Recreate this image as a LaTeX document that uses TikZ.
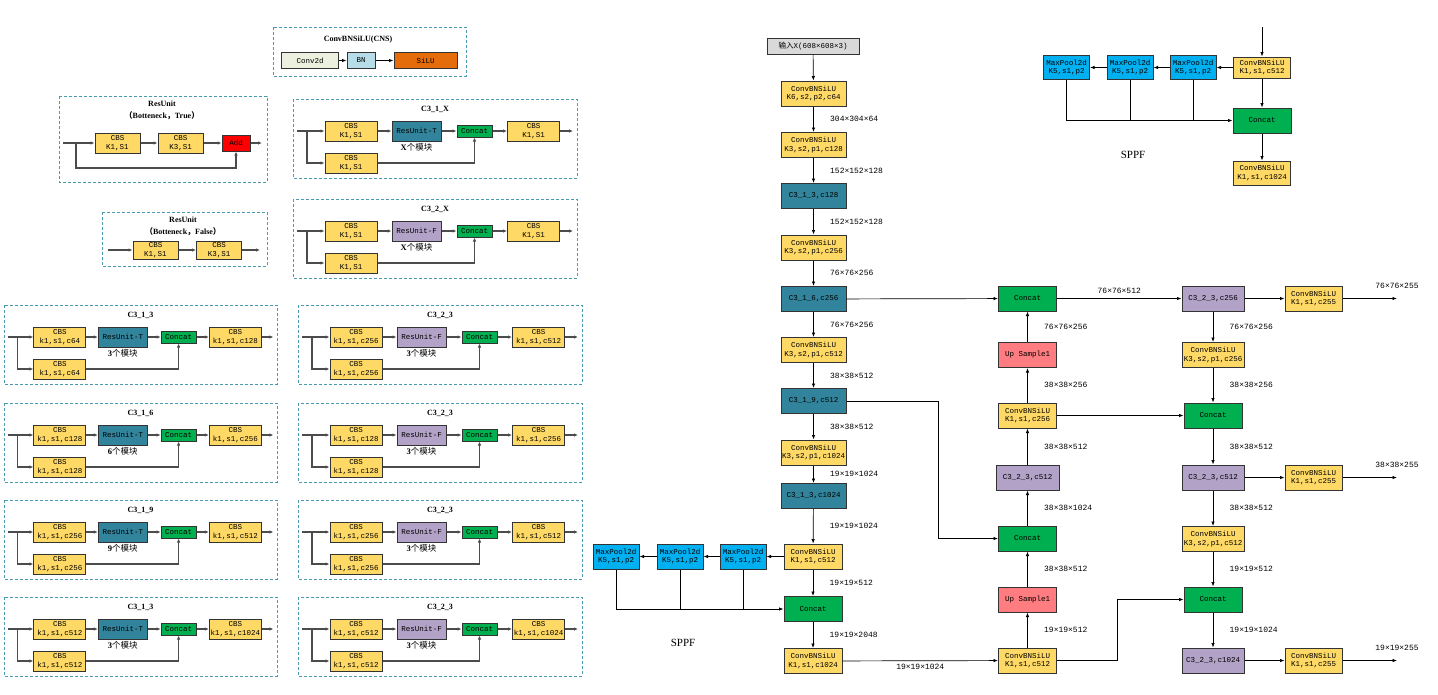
\documentclass[tikz,border=0pt]{standalone}
\usepackage{fontspec}
\setmainfont{Liberation Serif}
\setmonofont{Liberation Mono}
\newfontfamily\cjk{Noto Sans CJK SC}
\usetikzlibrary{arrows.meta,positioning}
\definecolor{cbsfill}{HTML}{FFD966}
\definecolor{unitT}{HTML}{31849B}
\definecolor{unitF}{HTML}{B3A2C7}
\definecolor{catfill}{HTML}{00B050}
\definecolor{poolfill}{HTML}{00B0F0}
\definecolor{upfill}{HTML}{FF7C80}
\definecolor{addfill}{HTML}{FF0000}
\definecolor{silufill}{HTML}{E46C0A}
\definecolor{convfill}{HTML}{EBF1DE}
\definecolor{bnfill}{HTML}{B7DEE8}
\definecolor{infill}{HTML}{D9D9D9}
\definecolor{frameblue}{HTML}{4A9AB0}

\begin{document}
\begin{tikzpicture}[x=1pt, y=-1pt,
    box/.style={draw=black!80, line width=1pt, inner sep=0pt, align=center,
                font=\ttfamily\fontsize{7.5}{8.8}\selectfont},
    cbs/.style={box, fill=cbsfill, minimum width=52pt, minimum height=20pt},
    unit/.style={box, minimum width=49pt, minimum height=20pt},
    cat/.style={box, fill=catfill, minimum width=35pt, minimum height=12pt},
    conv/.style={box, fill=cbsfill, minimum width=65pt, minimum height=25pt},
    c3/.style={box, minimum width=65pt, minimum height=25pt},
    pool/.style={box, fill=poolfill, minimum width=46pt, minimum height=25pt},
    dashframe/.style={draw=frameblue, line width=0.9pt, dash pattern=on 3pt off 2pt},
    ttl/.style={font=\bfseries\fontsize{8}{9}\selectfont},
    mod/.style={font=\fontsize{8.5}{9}\selectfont},
    blk/.style={draw=black!70, line width=1.1pt, -{Latex[length=4pt,width=3.5pt]}},
    arr/.style={draw=black, line width=0.7pt, -{Latex[length=4.5pt,width=3.5pt]}},
    ln/.style={draw=black, line width=0.7pt},
    dimtxt/.style={font=\ttfamily\fontsize{8}{9}\selectfont},
    dim/.style={dimtxt, midway, anchor=west, xshift=13pt}
  ]
  \useasboundingbox (0,0) rectangle (1438,694);

  % Legend: ConvBNSiLU
  \draw[dashframe] (273,27) rectangle (466,76);
  \node[ttl] (lgt) at (358,40) {ConvBNSiLU(CNS)};
  \node[box, fill=convfill, minimum width=57pt, minimum height=16pt] (lconv) at (310,60.5) {Conv2d};
  \node[box, fill=bnfill, minimum width=28pt, minimum height=16pt] (lbn) at (361,60.5) {BN};
  \node[box, fill=silufill, minimum width=63pt, minimum height=16pt] (lsilu) at (425.5,60.5) {SiLU};
  \draw[arr] (lconv) -- (lbn);
  \draw[arr] (lbn) -- (lsilu);

  % ResUnit (Botteneck, True)
  \draw[dashframe] (59,96) rectangle (267,182);
  \node[ttl] (rt1) at (162,104) {ResUnit};
  \node[ttl] (rt2) at (162,116) {{\cjk （}Botteneck{\cjk ，}True{\cjk ）}};
  \node[cbs, minimum width=45pt] (ra) at (117.5,143) {CBS\\K1,S1};
  \node[cbs, minimum width=45pt] (rb) at (180.5,143) {CBS\\K3,S1};
  \node[box, fill=addfill, minimum width=28pt, minimum height=16pt] (radd) at (236,143) {Add};
  \coordinate (ri) at (63,143);
  \coordinate (rf) at (76,143);
  \coordinate (rlow) at (76,168);
  \coordinate (ro) at (262,143);
  \draw[blk] (ri) -- (ra);
  \draw[blk] (ra) -- (rb);
  \draw[blk] (rb) -- (radd);
  \draw[blk] (radd) -- (ro);
  \draw[blk] (rf) -- (rlow) -| (radd);

  % ResUnit (Botteneck, False)
  \draw[dashframe] (102,212) rectangle (267,266);
  \node[ttl] (rf1) at (183,220) {ResUnit};
  \node[ttl] (rf2) at (183,232) {{\cjk （}Botteneck{\cjk ，}False{\cjk ）}};
  \node[cbs, minimum width=45pt, minimum height=18pt] (rc) at (155.5,250) {CBS\\K1,S1};
  \node[cbs, minimum width=45pt, minimum height=18pt] (rd) at (219,250) {CBS\\K3,S1};
  \coordinate (rfi) at (108,250);
  \coordinate (rfo) at (260,250);
  \draw[blk] (rfi) -- (rc);
  \draw[blk] (rc) -- (rd);
  \draw[blk] (rd) -- (rfo);

  % C3 blocks
  \foreach \dx/\sx/\t/\ttl/\ca/\cb/\n/\ut/\id in {
      293/1/99/C3\_1\_X/{K1,S1}/{K1,S1}/X/T/X1,
      293/1/199/C3\_2\_X/{K1,S1}/{K1,S1}/X/F/X2,
      4/0.962/305/C3\_1\_3/{k1,s1,c64}/{k1,s1,c128}/3/T/L1,
      4/0.962/403/C3\_1\_6/{k1,s1,c128}/{k1,s1,c256}/6/T/L2,
      4/0.962/500/C3\_1\_9/{k1,s1,c256}/{k1,s1,c512}/9/T/L3,
      4/0.962/597/C3\_1\_3/{k1,s1,c512}/{k1,s1,c1024}/3/T/L4,
      298/1/305/C3\_2\_3/{k1,s1,c256}/{k1,s1,c512}/3/F/R1,
      298/1/403/C3\_2\_3/{k1,s1,c128}/{k1,s1,c256}/3/F/R2,
      298/1/500/C3\_2\_3/{k1,s1,c256}/{k1,s1,c512}/3/F/R3,
      298/1/597/C3\_2\_3/{k1,s1,c512}/{k1,s1,c1024}/3/F/R4} {
    \begin{scope}[xshift=\dx pt, xscale=\sx]
      \draw[dashframe] (0,\t) rectangle (284,\t+79);
      \node[ttl] (t\id) at (142,\t+10) {\ttl};
      \node[cbs] (a\id) at (58,\t+32) {CBS\\\ca};
      \node[unit, fill=unit\ut] (u\id) at (123.5,\t+32) {ResUnit-\ut};
      \node[mod] (m\id) at (123.5,\t+48) {\textbf{\n}{\cjk 个模块}};
      \node[cat] (k\id) at (181.5,\t+32) {Concat};
      \node[cbs] (c\id) at (240.5,\t+32) {CBS\\\cb};
      \node[cbs] (b\id) at (58,\t+64) {CBS\\\ca};
      \coordinate (i\id) at (4,\t+32);
      \coordinate (f\id) at (14,\t+32);
      \coordinate (o\id) at (280,\t+32);
      \draw[blk] (i\id) -- (a\id);
      \draw[blk] (f\id) |- (b\id);
      \draw[blk] (a\id) -- (u\id);
      \draw[blk] (u\id) -- (k\id);
      \draw[blk] (k\id) -- (c\id);
      \draw[blk] (c\id) -- (o\id);
      \draw[blk] (b\id) -| (k\id);
    \end{scope}
  }

  % Backbone
  \node[box, fill=infill, minimum width=92pt, minimum height=16pt] (inp) at (813,46) {{\cjk 输入}X(608×608×3)};
  \node[conv] (cv1) at (813.5,93.5) {ConvBNSiLU\\K6,s2,p2,c64};
  \node[conv] (cv2) at (813.5,145) {ConvBNSiLU\\K3,s2,p1,c128};
  \node[c3, fill=unitT] (c313) at (813.5,196) {C3\_1\_3,c128};
  \node[conv] (cv3) at (813.5,247.5) {ConvBNSiLU\\K3,s2,p1,c256};
  \node[c3, fill=unitT] (c316) at (813.5,299) {C3\_1\_6,c256};
  \node[conv] (cv4) at (813.5,350) {ConvBNSiLU\\K3,s2,p1,c512};
  \node[c3, fill=unitT] (c319) at (813.5,401) {C3\_1\_9,c512};
  \node[conv] (cv5) at (813.5,452.5) {ConvBNSiLU\\K3,s2,p1,c1024};
  \node[c3, fill=unitT] (c3l) at (813.5,496) {C3\_1\_3,c1024};
  \node[conv, minimum width=58pt] (sp1) at (813,556.5) {ConvBNSiLU\\K1,s1,c512};
  \node[c3, fill=catfill, minimum width=58pt] (spc) at (813,609) {Concat};
  \node[conv, minimum width=58pt] (sp2) at (813,661) {ConvBNSiLU\\K1,s1,c1024};

  \draw[arr] (inp) -- (cv1);
  \draw[arr] (cv1) -- node[dim] {304×304×64} (cv2);
  \draw[arr] (cv2) -- node[dim] {152×152×128} (c313);
  \draw[arr] (c313) -- node[dim] {152×152×128} (cv3);
  \draw[arr] (cv3) -- node[dim] {76×76×256} (c316);
  \draw[arr] (c316) -- node[dim] {76×76×256} (cv4);
  \draw[arr] (cv4) -- node[dim] {38×38×512} (c319);
  \draw[arr] (c319) -- node[dim] {38×38×512} (cv5);
  \draw[arr] (cv5) -- node[dim] {19×19×1024} (c3l);
  \draw[arr] (c3l) -- node[dim] {19×19×1024} (sp1);
  \draw[arr] (sp1) -- node[dim] {19×19×512} (spc);
  \draw[arr] (spc) -- node[dim] {19×19×2048} (sp2);

  % SPPF (backbone)
  \node[pool] (mp1) at (743,556.5) {MaxPool2d\\K5,s1,p2};
  \node[pool] (mp2) at (680,556.5) {MaxPool2d\\K5,s1,p2};
  \node[pool] (mp3) at (616,556.5) {MaxPool2d\\K5,s1,p2};
  \node[font=\fontsize{11}{12}\selectfont] (sppfa) at (683,643) {SPPF};
  \draw[arr] (sp1) -- (mp1);
  \draw[arr] (mp1) -- (mp2);
  \draw[arr] (mp2) -- (mp3);
  \draw[arr] (mp3) |- (spc);
  \draw[ln] (mp2) -- (mp2 |- spc);
  \draw[ln] (mp1) -- (mp1 |- spc);

  % Neck, column 1
  \node[c3, fill=catfill, minimum width=58pt] (cat1) at (1027.5,298.5) {Concat};
  \node[c3, fill=upfill, minimum width=58pt] (up1) at (1027.5,355) {Up Sample1};
  \node[conv, minimum width=58pt] (cv7) at (1027.5,415.5) {ConvBNSiLU\\K1,s1,c256};
  \node[c3, fill=unitF, minimum width=63pt] (c2a) at (1027.5,477.5) {C3\_2\_3,c512};
  \node[c3, fill=catfill, minimum width=58pt] (cat2) at (1027.5,538.5) {Concat};
  \node[c3, fill=upfill, minimum width=58pt] (up2) at (1027.5,599.5) {Up Sample1};
  \node[conv, minimum width=58pt] (cv8) at (1027.5,660.5) {ConvBNSiLU\\K1,s1,c512};
  \coordinate (kn1) at (938,401);
  \coordinate (kn2) at (1117,660.5);

  \draw[arr] (c316) -- (cat1);
  \draw[arr] (up1) -- node[dim] {76×76×256} (cat1);
  \draw[arr] (cv7) -- node[dim] {38×38×256} (up1);
  \draw[arr] (c2a) -- node[dim] {38×38×512} (cv7);
  \draw[arr] (cat2) -- node[dim] {38×38×1024} (c2a);
  \draw[arr] (up2) -- node[dim] {38×38×512} (cat2);
  \draw[arr] (cv8) -- node[dim] {19×19×512} (up2);
  \draw[arr] (sp2) -- node[dimtxt, midway, below=0pt] {19×19×1024} (cv8);
  \draw[arr] (c319) -- (kn1) |- (cat2);

  % Neck, column 2
  \node[c3, fill=unitF, minimum width=62pt] (c2b) at (1213,298.5) {C3\_2\_3,c256};
  \node[conv, minimum width=62pt] (cv9) at (1213,355) {ConvBNSiLU\\K3,s2,p1,c256};
  \node[c3, fill=catfill, minimum width=58pt] (cat3) at (1213,415.5) {Concat};
  \node[c3, fill=unitF, minimum width=62pt] (c2c) at (1213,477.5) {C3\_2\_3,c512};
  \node[conv, minimum width=62pt] (cv10) at (1213,539) {ConvBNSiLU\\K3,s2,p1,c512};
  \node[c3, fill=catfill, minimum width=58pt] (cat4) at (1213,599.5) {Concat};
  \node[c3, fill=unitF, minimum width=62pt] (c2d) at (1213,660.5) {C3\_2\_3,c1024};

  \draw[arr] (cat1) -- node[dimtxt, midway, above=1pt] {76×76×512} (c2b);
  \draw[arr] (c2b) -- node[dim] {76×76×256} (cv9);
  \draw[arr] (cv9) -- node[dim] {38×38×256} (cat3);
  \draw[arr] (cv7) -- (cat3);
  \draw[arr] (cat3) -- node[dim] {38×38×512} (c2c);
  \draw[arr] (c2c) -- node[dim] {38×38×512} (cv10);
  \draw[arr] (cv10) -- node[dim] {19×19×512} (cat4);
  \draw[arr] (cv8) -- (kn2) |- (cat4);
  \draw[arr] (cat4) -- node[dim] {19×19×1024} (c2d);

  % Heads
  \node[conv, minimum width=57pt] (hd1) at (1313.5,298.5) {ConvBNSiLU\\K1,s1,c255};
  \node[conv, minimum width=57pt] (hd2) at (1313.5,477.5) {ConvBNSiLU\\K1,s1,c255};
  \node[conv, minimum width=57pt] (hd3) at (1313.5,660.5) {ConvBNSiLU\\K1,s1,c255};
  \coordinate (o1) at (1397,298.5);
  \coordinate (o2) at (1397,477.5);
  \coordinate (o3) at (1397,660.5);
  \draw[arr] (c2b) -- (hd1);
  \draw[arr] (c2c) -- (hd2);
  \draw[arr] (c2d) -- (hd3);
  \draw[arr] (hd1) -- (o1) node[dimtxt, above=6pt] {76×76×255};
  \draw[arr] (hd2) -- (o2) node[dimtxt, above=6pt] {38×38×255};
  \draw[arr] (hd3) -- (o3) node[dimtxt, above=6pt] {19×19×255};

  % SPPF (detail)
  \coordinate (tin) at (1262,27);
  \node[conv, minimum width=57pt, minimum height=21pt] (tcv) at (1262,67.5) {ConvBNSiLU\\K1,s1,c512};
  \node[pool, minimum height=24pt] (tp1) at (1193,67.5) {MaxPool2d\\K5,s1,p2};
  \node[pool, minimum height=24pt] (tp2) at (1130,67.5) {MaxPool2d\\K5,s1,p2};
  \node[pool, minimum height=24pt] (tp3) at (1066.5,67.5) {MaxPool2d\\K5,s1,p2};
  \node[c3, fill=catfill, minimum width=58pt] (tcat) at (1262,120.5) {Concat};
  \node[conv, minimum width=57pt, minimum height=24pt] (tcv2) at (1262,173) {ConvBNSiLU\\K1,s1,c1024};
  \node[font=\fontsize{11}{12}\selectfont] (sppfb) at (1133,155) {SPPF};
  \draw[arr] (tin) -- (tcv);
  \draw[arr] (tcv) -- (tp1);
  \draw[arr] (tp1) -- (tp2);
  \draw[arr] (tp2) -- (tp3);
  \draw[arr] (tp3) |- (tcat);
  \draw[ln] (tp2) -- (tp2 |- tcat);
  \draw[ln] (tp1) -- (tp1 |- tcat);
  \draw[arr] (tcv) -- (tcat);
  \draw[arr] (tcat) -- (tcv2);
\end{tikzpicture}
\end{document}
